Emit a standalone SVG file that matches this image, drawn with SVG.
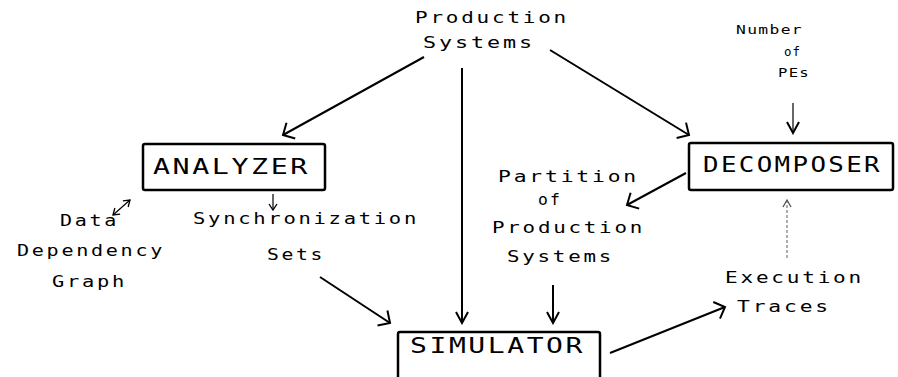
<svg xmlns="http://www.w3.org/2000/svg" width="898" height="377" viewBox="0 0 898 377">
  <style>
    text { font-family: "DejaVu Sans Mono", "Liberation Mono", monospace; fill: #000; }
    .lg { font-size: 22px; letter-spacing: 2px; }
    .md { font-size: 15px; letter-spacing: 2px; }
    .sm { font-size: 12px; letter-spacing: 1px; }
    .box { fill: none; stroke: #000; stroke-width: 2.5; }
    .wire { fill: none; stroke: #000; stroke-width: 2; }
    .thin { fill: none; stroke: #000; stroke-width: 1.2; }
    .dot { fill: none; stroke: #777; stroke-width: 1.2; stroke-dasharray: 3 2; }
  </style>
  <defs>
    <marker id="head" markerUnits="userSpaceOnUse" viewBox="-12 -12 14 24" markerWidth="14" markerHeight="24" refX="0" refY="0" orient="auto">
      <path d="M-9,-9 L0,0 L-9,9" fill="none" stroke="#000" stroke-width="2"/>
    </marker>
    <marker id="headN" markerUnits="userSpaceOnUse" viewBox="-14 -10 16 20" markerWidth="16" markerHeight="20" refX="0" refY="0" orient="auto">
      <path d="M-11,-6 L0,0 L-11,6" fill="none" stroke="#000" stroke-width="2"/>
    </marker>
    <marker id="headS" markerUnits="userSpaceOnUse" viewBox="-8 -6 10 12" markerWidth="10" markerHeight="12" refX="0" refY="0" orient="auto-start-reverse">
      <path d="M-6,-4 L0,0 L-6,4" fill="none" stroke="#000" stroke-width="1.3"/>
    </marker>
    <marker id="headG" markerUnits="userSpaceOnUse" viewBox="-8 -6 10 12" markerWidth="10" markerHeight="12" refX="0" refY="0" orient="auto">
      <path d="M-7,-4 L0,0 L-7,4" fill="none" stroke="#555" stroke-width="1.3"/>
    </marker>
  </defs>

  <g id="connectors">
    <line class="wire" x1="424" y1="57" x2="283" y2="135" marker-end="url(#head)"/>
    <line class="wire" x1="550" y1="50" x2="689" y2="135" marker-end="url(#head)"/>
    <line class="wire" x1="462" y1="68" x2="462" y2="323" marker-end="url(#headN)"/>
    <line class="thin" x1="793" y1="103" x2="793" y2="133" marker-end="url(#headN)"/>
    <line class="wire" x1="686" y1="173" x2="627" y2="205" marker-end="url(#head)"/>
    <line class="wire" x1="553" y1="285" x2="553" y2="323" marker-end="url(#headN)"/>
    <line class="wire" x1="320" y1="277" x2="390" y2="323" marker-end="url(#head)"/>
    <line class="wire" x1="610" y1="353" x2="725" y2="307" marker-end="url(#head)"/>
    <line class="dot" x1="787" y1="258" x2="787" y2="200" marker-end="url(#headG)"/>
    <line class="thin" x1="273" y1="194" x2="273" y2="210" marker-end="url(#headS)"/>
    <line class="thin" x1="113" y1="215" x2="130" y2="200" marker-start="url(#headS)" marker-end="url(#headS)"/>
  </g>

  <g id="production-systems">
    <text class="md" x="415" y="23" textLength="154" lengthAdjust="spacingAndGlyphs">Production</text>
    <text class="md" x="423" y="48" textLength="112" lengthAdjust="spacingAndGlyphs">Systems</text>
  </g>

  <g id="number-of-pes">
    <text class="sm" x="736" y="34" textLength="67" lengthAdjust="spacingAndGlyphs">Number</text>
    <text class="sm" x="784" y="56" textLength="17" lengthAdjust="spacingAndGlyphs">of</text>
    <text class="sm" x="778" y="77" textLength="32" lengthAdjust="spacingAndGlyphs">PEs</text>
  </g>

  <g id="analyzer">
    <rect class="box" x="143" y="144" width="182" height="46" rx="2"/>
    <text class="lg" x="153" y="174" textLength="157" lengthAdjust="spacingAndGlyphs">ANALYZER</text>
  </g>

  <g id="decomposer">
    <rect class="box" x="689" y="143" width="204" height="47" rx="2"/>
    <text class="lg" x="703" y="172" textLength="179" lengthAdjust="spacingAndGlyphs">DECOMPOSER</text>
  </g>

  <g id="simulator">
    <rect class="box" x="398" y="332" width="202" height="50" rx="2"/>
    <text class="lg" x="410" y="353" textLength="175" lengthAdjust="spacingAndGlyphs">SIMULATOR</text>
  </g>

  <g id="partition">
    <text class="md" x="498" y="182" textLength="141" lengthAdjust="spacingAndGlyphs">Partition</text>
    <text class="md" x="538" y="205" textLength="24" lengthAdjust="spacingAndGlyphs">of</text>
    <text class="md" x="492" y="233" textLength="153" lengthAdjust="spacingAndGlyphs">Production</text>
    <text class="md" x="507" y="262" textLength="107" lengthAdjust="spacingAndGlyphs">Systems</text>
  </g>

  <g id="data-dependency-graph">
    <text class="md" x="60" y="226" textLength="59" lengthAdjust="spacingAndGlyphs">Data</text>
    <text class="md" x="17" y="256" textLength="148" lengthAdjust="spacingAndGlyphs">Dependency</text>
    <text class="md" x="52" y="287" textLength="75" lengthAdjust="spacingAndGlyphs">Graph</text>
  </g>

  <g id="synchronization-sets">
    <text class="md" x="193" y="224" textLength="226" lengthAdjust="spacingAndGlyphs">Synchronization</text>
    <text class="md" x="267" y="260" textLength="58" lengthAdjust="spacingAndGlyphs">Sets</text>
  </g>

  <g id="execution-traces">
    <text class="md" x="725" y="283" textLength="139" lengthAdjust="spacingAndGlyphs">Execution</text>
    <text class="md" x="737" y="312" textLength="94" lengthAdjust="spacingAndGlyphs">Traces</text>
  </g>
</svg>
